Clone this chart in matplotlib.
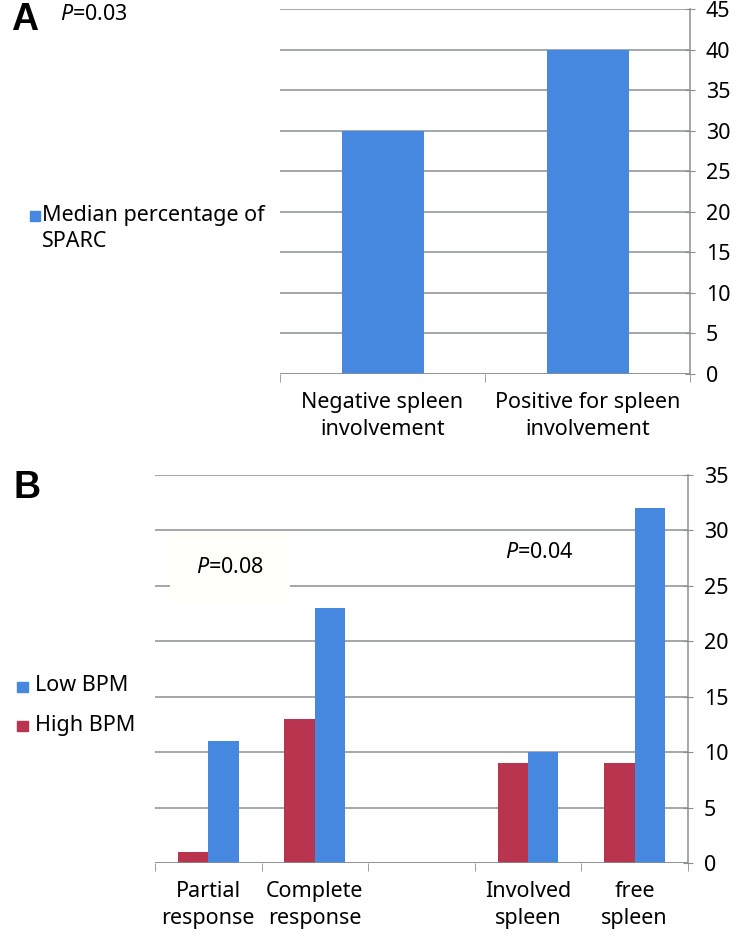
import numpy as np
import matplotlib
matplotlib.use("Agg")
import matplotlib.pyplot as plt
from matplotlib.patches import Rectangle

plt.rcParams['font.family'] = ['Noto Sans', 'DejaVu Sans']
plt.rcParams['mathtext.fontset'] = 'custom'
plt.rcParams['mathtext.it'] = 'Noto Sans:italic'
plt.rcParams['mathtext.rm'] = 'Noto Sans'

# Panel A data
cats_a = ['Negative spleen\ninvolvement', 'Positive for spleen\ninvolvement']
sparc = [30, 40]

# Panel B data (third category is an empty spacer)
cats_b = ['Partial\nresponse', 'Complete\nresponse', '', 'Involved\nspleen', 'free\nspleen']
high_bpm = [1, 13, np.nan, 9, 9]
low_bpm = [11, 23, np.nan, 10, 32]

BLUE = '#4688df'
RED = '#b8344f'
GREY = '#8a8f94'
FS = 15.5


def style_axis(ax, ymax, step, ncat):
    ax.set_ylim(0, ymax)
    ax.set_xlim(-0.5, ncat - 0.5)
    ax.set_yticks(np.arange(0, ymax + 1, step))
    ax.yaxis.tick_right()
    ax.yaxis.grid(True, color=GREY, lw=1.1)
    ax.set_axisbelow(True)
    for s in ['left', 'top']:
        ax.spines[s].set_visible(False)
    for s in ['right', 'bottom']:
        ax.spines[s].set_color(GREY)
        ax.spines[s].set_linewidth(1.1)
    ax.tick_params(axis='y', direction='inout', length=7, color=GREY,
                   labelsize=FS, pad=8)
    ax.set_xticks(np.arange(ncat))
    ax.set_xticks(np.arange(ncat + 1) - 0.5, minor=True)
    ax.tick_params(axis='x', which='major', length=0, labelsize=FS, pad=13)
    ax.tick_params(axis='x', which='minor', length=6, color=GREY)


fig = plt.figure(figsize=(7.56, 9.32), dpi=100)

# ---------------- Panel A ----------------
axA = fig.add_axes([0.3704, 0.5987, 0.5423, 0.3916])
style_axis(axA, 45, 5, len(cats_a))
xa = np.arange(len(cats_a))
axA.bar(xa, sparc, width=0.4, color=BLUE)
axA.set_xticklabels(cats_a, linespacing=1.4)
axA.spines['bottom'].set_visible(False)
axA.axhline(0, color=GREY, lw=1.1)

fig.text(0.015, 0.979, 'A', fontsize=27, fontweight='bold',
         family=['Liberation Sans', 'DejaVu Sans'], va='center')
fig.text(0.080, 0.984, '$P$=0.03', fontsize=FS, va='center')
fig.patches.append(Rectangle((0.040, 0.763), 0.0135, 0.0110, color=BLUE,
                             transform=fig.transFigure, figure=fig))
fig.text(0.056, 0.769, 'Median percentage of', fontsize=FS, va='center')
fig.text(0.056, 0.741, 'SPARC', fontsize=FS, va='center')

# ---------------- Panel B ----------------
axB = fig.add_axes([0.2050, 0.0740, 0.7050, 0.4163])
style_axis(axB, 35, 5, len(cats_b))
xb = np.arange(len(cats_b))
w = 0.285
axB.bar(xb - w / 2, high_bpm, width=w, color=RED)
axB.bar(xb + w / 2, low_bpm, width=w, color=BLUE)
axB.set_xticklabels(cats_b, linespacing=1.4)
axB.spines['bottom'].set_visible(False)
axB.axhline(0, color=GREY, lw=1.1)

fig.text(0.018, 0.476, 'B', fontsize=27, fontweight='bold',
         family=['Liberation Sans', 'DejaVu Sans'], va='center')
axB.text(0.2, 26.7, '$P$=0.08', fontsize=FS, ha='center', va='center',
         bbox=dict(boxstyle='square,pad=1.2', fc='#fffef9', ec='none'))
axB.text(3.11, 28.0, '$P$=0.04', fontsize=FS, ha='center', va='center')

fig.patches.append(Rectangle((0.023, 0.2575), 0.0135, 0.0110, color=BLUE,
                             transform=fig.transFigure, figure=fig))
fig.text(0.046, 0.264, 'Low BPM', fontsize=FS, va='center')
fig.patches.append(Rectangle((0.023, 0.2155), 0.0135, 0.0110, color=RED,
                             transform=fig.transFigure, figure=fig))
fig.text(0.046, 0.222, 'High BPM', fontsize=FS, va='center')

fig.savefig('out.png', dpi=100)
